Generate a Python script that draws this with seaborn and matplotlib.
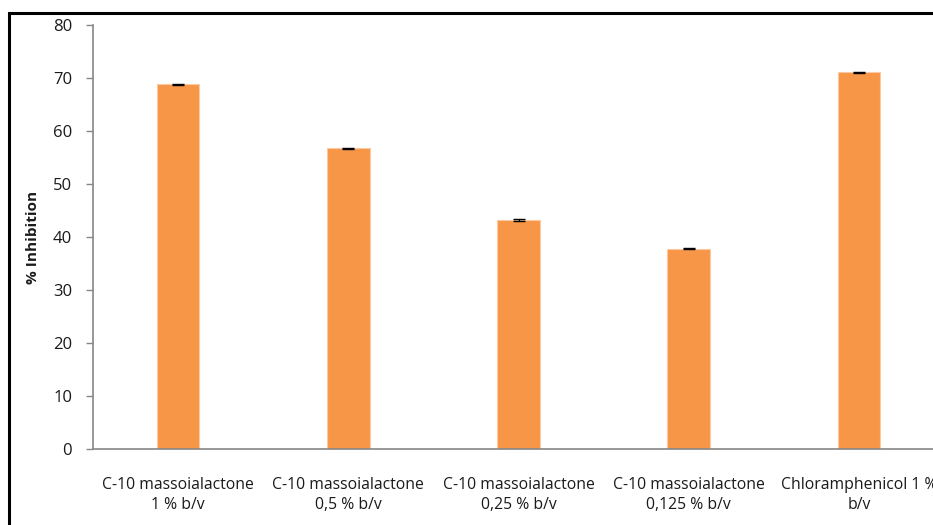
import matplotlib
matplotlib.use("Agg")
import matplotlib.pyplot as plt
import matplotlib.patches as patches
import pandas as pd
import seaborn as sns

# Data
categories = [
    "C-10 massoialactone\n1 % b/v",
    "C-10 massoialactone\n0,5 % b/v",
    "C-10 massoialactone\n0,25 % b/v",
    "C-10 massoialactone\n0,125 % b/v",
    "Chloramphenicol 1 %\nb/v",
]
inhibition = [68.8, 56.7, 43.2, 37.8, 71.1]
errors = [0.12, 0.12, 0.12, 0.12, 0.12]
y_ticks = [0, 10, 20, 30, 40, 50, 60, 70, 80]

BAR_COLOR = "#F79646"
AXIS_GRAY = "#868686"
TEXT_COLOR = "#1a1a1a"

df = pd.DataFrame({"group": categories, "inhibition": inhibition})

sns.set_theme(style="white")
plt.rcParams["font.family"] = ["Open Sans", "DejaVu Sans"]

fig = plt.figure(figsize=(9.33, 5.25), dpi=100)
# axes runs off the right edge like the cropped original
ax = fig.add_axes([93 / 933, 1 - 449 / 525, (944 - 93) / 933, (449 - 25) / 525])

sns.barplot(data=df, x="group", y="inhibition", color=BAR_COLOR,
            width=0.25, errorbar=None, saturation=1,
            edgecolor="#FBC9A3", linewidth=0.8, ax=ax)
ax.errorbar(range(len(categories)), inhibition, yerr=errors, fmt="none",
            ecolor="black", elinewidth=0.8, capsize=4, capthick=1.0)

ax.set_ylim(0, 80)
ax.set_xlim(-0.5, len(categories) - 0.5)
ax.set_yticks(y_ticks)
ax.set_xlabel("")
ax.set_ylabel("% Inhibition", fontsize=11, fontweight="bold", color=TEXT_COLOR, labelpad=9)

for side in ["top", "right"]:
    ax.spines[side].set_visible(False)
for side in ["left", "bottom"]:
    ax.spines[side].set_color(AXIS_GRAY)
    ax.spines[side].set_linewidth(1.2)

ax.tick_params(axis="y", left=True, length=5, width=1, color=AXIS_GRAY,
               labelsize=12, labelcolor=TEXT_COLOR, pad=10)
ax.tick_params(axis="x", bottom=False, labelsize=11.3, labelcolor=TEXT_COLOR, pad=14)
for lbl in ax.get_xticklabels():
    lbl.set_linespacing(1.35)

# outer frame of the chart area
frame = patches.Rectangle((9 / 933, -0.2), 1.2, 0.2 + 1 - 13 / 525,
                          transform=fig.transFigure, fill=False,
                          edgecolor="black", linewidth=2.2, clip_on=False)
fig.patches.append(frame)

fig.savefig("out.png", dpi=100)
